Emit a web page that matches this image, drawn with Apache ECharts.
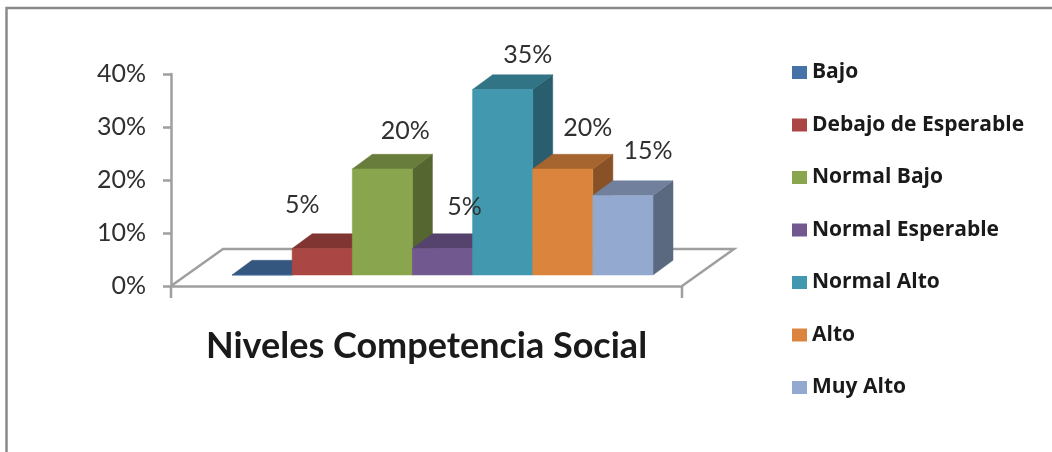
<!DOCTYPE html>
<html>
<head>
<meta charset="utf-8">
<style>html,body{margin:0;padding:0;background:#fff}#chart{width:1052px;height:452px}</style>
<script src="https://cdn.jsdelivr.net/npm/echarts@6/dist/echarts.min.js"></script>
</head>
<body>
<div id="chart"></div>
<script>
// Niveles de competencia social: percentage per level
const categories = ['Niveles Competencia Social'];
const seriesNames = ['Bajo', 'Debajo de Esperable', 'Normal Bajo', 'Normal Esperable', 'Normal Alto', 'Alto', 'Muy Alto'];
const seriesValues = [0, 5, 20, 5, 35, 20, 15];
const seriesColors = ['#4572A7', '#AA4643', '#89A54E', '#71588F', '#4198AF', '#DB843D', '#93A9CF'];
const tickValues = { min: 0, max: 40, step: 10 };

// Hand-placed value label offsets from the centre of each bar's front top edge
const labelOffsets = [[0, 0], [-20, -44], [23, -38], [22, -42], [25, -35], [25, -41], [25, -45]];

const FONT = 'Lato, "Open Sans", sans-serif';
const LEGEND_FONT = '"Open Sans", Lato, sans-serif';
const GRAY = '#9f9f9f';
const TEXT = '#303030';
// Oblique projection of the box: one bar's depth, and the inset of the bars on the floor
const DEPTH_X = 20, DEPTH_Y = 14.7;
const INSET_X = 16, INSET_Y = 11;
const FLOOR_X = 52, FLOOR_Y = 37;
const BAR_RATIO = 0.1177;
const TICK_LEN = 12;

function shade(hex, k) {
  const n = parseInt(hex.slice(1), 16);
  const c = [n >> 16, (n >> 8) & 255, n & 255].map(v => Math.round(v * k));
  return 'rgb(' + c.join(',') + ')';
}

// Floor outline and the two tick marks that close the category band
function renderFloor(params, api) {
  const o = api.coord([0, 0]);
  const band = api.size([1, 0])[0];
  const l = o[0] - band / 2, r = o[0] + band / 2, y = o[1];
  const line = points => ({
    type: 'polyline', shape: { points },
    style: { stroke: GRAY, lineWidth: 2.5, fill: null }, silent: true
  });
  return {
    type: 'group',
    children: [
      line([[l, y], [l + FLOOR_X, y - FLOOR_Y], [r + FLOOR_X, y - FLOOR_Y], [r, y]]),
      line([[l, y], [l, y + TICK_LEN]]),
      line([[r, y], [r, y + TICK_LEN]])
    ]
  };
}

function renderBox(index) {
  return function (params, api) {
    const value = api.value(1);
    const base = api.coord([0, 0]);
    const top = api.coord([0, value]);
    const band = api.size([1, 0])[0];
    const w = band * BAR_RATIO;
    const x0 = base[0] - w * seriesNames.length / 2 + INSET_X + index * w;
    const x1 = x0 + w;
    const yb = base[1] - INSET_Y;
    const yt = top[1] - INSET_Y;
    const color = seriesColors[index];
    const poly = (points, fill) => ({
      type: 'polygon', shape: { points }, style: { fill, stroke: fill, lineWidth: 0.5 }
    });
    const children = [
      poly([[x1, yb], [x1 + DEPTH_X, yb - DEPTH_Y], [x1 + DEPTH_X, yt - DEPTH_Y], [x1, yt]], shade(color, 0.62)),
      poly([[x0, yt], [x0 + DEPTH_X, yt - DEPTH_Y], [x1 + DEPTH_X, yt - DEPTH_Y], [x1, yt]], shade(color, 0.76)),
      poly([[x0, yb], [x1, yb], [x1, yt], [x0, yt]], color)
    ];
    if (value > 0) {
      const off = labelOffsets[index];
      children.push({
        type: 'text',
        z2: 100,
        style: {
          text: value + '%', x: (x0 + x1) / 2 + off[0], y: yt + off[1],
          fill: TEXT, fontFamily: FONT, fontSize: 25,
          align: 'center', verticalAlign: 'middle'
        }
      });
    }
    return { type: 'group', children };
  };
}

const series = [{
  type: 'custom', name: 'floor', data: [[0, 0]], clip: false, silent: true,
  encode: { x: 0, y: 1 }, renderItem: renderFloor
}].concat(seriesNames.map((name, i) => ({
  type: 'custom', name, clip: false,
  data: [[0, seriesValues[i]]],
  encode: { x: 0, y: 1 },
  itemStyle: { color: seriesColors[i] },
  renderItem: renderBox(i)
})));

const chart = echarts.init(document.getElementById('chart'), null, { renderer: 'canvas' });
chart.setOption({
  animation: false,
  backgroundColor: '#ffffff',
  graphic: [{
    type: 'polyline',
    shape: { points: [[6.5, 452], [6.5, 8], [1052, 8]] },
    style: { stroke: '#8a8a8a', lineWidth: 2.5, fill: null },
    silent: true
  }],
  grid: { left: 171, right: 370, top: 74, bottom: 166 },
  legend: {
    data: seriesNames,
    orient: 'vertical',
    left: 792, top: 61, padding: 0,
    icon: 'rect',
    itemWidth: 15, itemHeight: 13, itemGap: 29.5,
    textStyle: { fontFamily: LEGEND_FONT, fontWeight: 'bold', fontSize: 21, color: '#1a1a1a', lineHeight: 23 }
  },
  xAxis: {
    type: 'category',
    data: categories,
    axisLine: { lineStyle: { color: GRAY, width: 2.5 } },
    axisTick: { show: false },
    axisLabel: { margin: 42, fontFamily: FONT, fontWeight: 'bold', fontSize: 36, color: '#1a1a1a' }
  },
  yAxis: {
    type: 'value',
    min: tickValues.min, max: tickValues.max, interval: tickValues.step,
    splitLine: { show: false },
    axisLine: { show: true, lineStyle: { color: GRAY, width: 2.5 } },
    axisTick: { show: true, length: 8, lineStyle: { color: GRAY, width: 2.5 } },
    axisLabel: { margin: 25, padding: [4, 0, 0, 0], formatter: '{value}%', fontFamily: FONT, fontSize: 25, color: TEXT }
  },
  series
});
</script>
</body>
</html>
